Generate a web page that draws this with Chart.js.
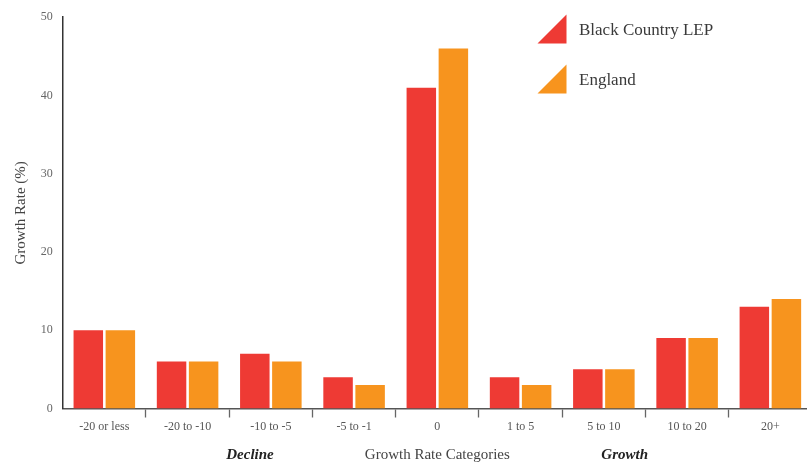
<!DOCTYPE html>
<html>
<head>
<meta charset="utf-8">
<script src="https://cdn.jsdelivr.net/npm/chart.js@4.4.0/dist/chart.umd.min.js"></script>
<style>
html,body{margin:0;padding:0;background:#fff;overflow:hidden;width:807px;height:466px;}
#wrap{width:812px;height:466px;}
</style>
</head>
<body>
<div id="wrap"><canvas id="c" width="812" height="466"></canvas></div>
<script>
const categories = ['-20 or less','-20 to -10','-10 to -5','-5 to -1','0','1 to 5','5 to 10','10 to 20','20+'];
const blackCountry = [10, 6, 7, 4, 41, 4, 5, 9, 13];
const england = [10, 6, 6, 3, 46, 3, 5, 9, 14];
const yTicks = [0, 10, 20, 30, 40, 50];
const seriesNames = ['Black Country LEP', 'England'];
const seriesColors = ['#EE3A34', '#F7941E'];
const groupLabels = ['Decline', 'Growth'];

const SERIF = '"Liberation Serif", "DejaVu Serif", serif';

const legendPlugin = {
  id: 'cornerLegend',
  afterDraw(chart) {
    const ctx = chart.ctx;
    ctx.save();
    chart.data.datasets.forEach((ds, i) => {
      const x0 = 537.5, size = 29, y0 = 14.5 + i * 50;
      ctx.fillStyle = ds.backgroundColor;
      ctx.beginPath();
      ctx.moveTo(x0, y0 + size);
      ctx.lineTo(x0 + size, y0 + size);
      ctx.lineTo(x0 + size, y0);
      ctx.closePath();
      ctx.fill();
      ctx.fillStyle = '#3a3a3a';
      ctx.font = '17px ' + SERIF;
      ctx.textBaseline = 'middle';
      ctx.textAlign = 'left';
      ctx.fillText(ds.label, 579, y0 + 16);
    });
    ctx.restore();
  }
};

const groupPlugin = {
  id: 'groupLabels',
  afterDraw(chart) {
    const xs = chart.scales.x;
    const ctx = chart.ctx;
    const step = xs.getPixelForValue(1) - xs.getPixelForValue(0);
    const mid = xs.getPixelForValue(4);
    ctx.save();
    ctx.fillStyle = '#222';
    ctx.font = 'italic bold 15px ' + SERIF;
    ctx.textAlign = 'center';
    ctx.textBaseline = 'middle';
    ctx.fillText(groupLabels[0], mid - 2.25 * step, 455);
    ctx.fillText(groupLabels[1], mid + 2.25 * step, 455);
    ctx.restore();
  }
};

new Chart(document.getElementById('c'), {
  type: 'bar',
  data: {
    labels: categories,
    datasets: [
      { label: seriesNames[0], data: blackCountry, backgroundColor: seriesColors[0] },
      { label: seriesNames[1], data: england, backgroundColor: seriesColors[1] }
    ]
  },
  options: {
    responsive: false,
    animation: false,
    devicePixelRatio: 1,
    categoryPercentage: 0.77,
    barPercentage: 0.92,
    layout: { padding: { top: 15, right: 0, bottom: 0, left: 0 } },
    plugins: { legend: { display: false }, tooltip: { enabled: false } },
    scales: {
      x: {
        offset: true,
        grid: {
          drawOnChartArea: false,
          drawTicks: true,
          tickLength: 9,
          tickWidth: 1.3,
          color: (c) => c.index === 0 ? 'rgba(0,0,0,0)' : '#666',
          tickColor: (c) => c.index === 0 ? 'rgba(0,0,0,0)' : '#666'
        },
        border: { display: true, color: '#555', width: 1.5 },
        ticks: { color: '#555', font: { family: SERIF, size: 12 }, padding: 2, maxRotation: 0, autoSkip: false },
        title: { display: true, text: 'Growth Rate Categories', color: '#444', font: { family: SERIF, size: 15 }, padding: { top: 4, bottom: 2 } },
        afterFit: (s) => { s.height = 57.5; }
      },
      y: {
        min: 0, max: 50,
        afterBuildTicks: (s) => { s.ticks = yTicks.map(v => ({ value: v })); },
        grid: { display: false, drawTicks: false },
        border: { display: true, color: '#333', width: 1.5 },
        ticks: { color: '#666', font: { family: SERIF, size: 12 }, padding: 10 },
        title: { display: true, text: 'Growth Rate (%)', color: '#444', font: { family: SERIF, size: 15 }, padding: { top: 12, bottom: 0 } },
        afterFit: (s) => { s.width = 62.7; }
      }
    }
  },
  plugins: [legendPlugin, groupPlugin]
});
</script>
</body>
</html>
